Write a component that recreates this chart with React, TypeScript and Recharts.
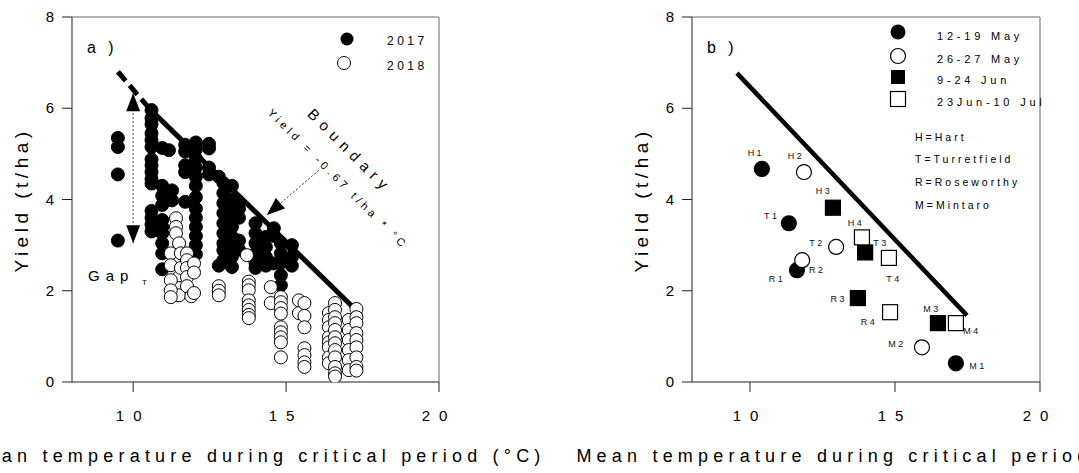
import { ScatterChart, Scatter, XAxis, YAxis, ReferenceLine, ReferenceDot } from "recharts"

const FONT = "'Liberation Sans', Arial, sans-serif"

// panel a: temperature columns with their yields
const cols2017: [number, number[]][] = [
  [9.5, [5.35, 5.15, 4.55, 3.1]],
  [10.6, [5.96, 5.78, 5.65, 5.45, 5.3, 5.15, 4.88, 4.75, 4.6, 4.45, 4.35, 3.75, 3.6, 3.45, 3.3]],
  [10.95, [5.13, 4.3, 4.08, 3.88, 3.55, 3.4, 3.26, 3.04, 2.82, 2.47]],
  [11.17, [5.08]],
  [11.27, [4.2, 3.98]],
  [11.7, [5.2, 5.05, 4.75, 4.6, 3.95]],
  [12.05, [5.25, 5.1, 4.9, 4.7, 4.5, 4.3, 4.05, 3.8, 3.6, 3.4, 3.2, 3.0, 2.8]],
  [12.48, [5.22, 5.12, 4.7, 4.55]],
  [12.8, [4.5, 2.55]],
  [12.95, [4.36, 4.14, 3.92, 3.7, 3.48, 3.26, 3.04, 2.89, 2.67]],
  [13.23, [4.3, 4.0, 3.8, 3.61, 3.4, 3.18, 2.96, 2.75, 2.52]],
  [13.46, [3.92, 3.8, 3.6, 3.1, 2.9]],
  [14.0, [3.48, 3.26, 3.04, 2.82, 2.61, 2.5]],
  [14.34, [3.18, 2.96, 2.74, 2.55]],
  [14.6, [3.37, 3.2, 2.6]],
  [14.83, [3.04, 2.82, 2.61, 2.34, 2.12]],
  [15.19, [3.0, 2.74, 2.55]],
]

const cols2018: [number, number[]][] = [
  [11.4, [3.59, 3.4, 3.26]],
  [11.5, [3.04, 2.3, 2.06, 1.9]],
  [11.23, [2.82, 2.56, 2.23, 2.01, 1.86]],
  [11.56, [2.82, 2.5]],
  [11.76, [2.82, 2.67, 2.5, 2.3, 2.1]],
  [11.9, [1.88]],
  [11.99, [2.6, 2.4, 1.95]],
  [12.8, [2.1, 2.0, 1.9]],
  [13.72, [2.78]],
  [13.78, [2.2, 2.12, 2.01, 1.79, 1.68, 1.58, 1.47, 1.4]],
  [14.5, [2.08, 1.73]],
  [14.83, [1.86, 1.75, 1.62, 1.5, 1.2, 1.09, 0.98, 0.87, 0.54]],
  [15.42, [1.79, 1.51]],
  [15.6, [1.73, 1.45, 1.2, 0.74, 0.59, 0.43, 0.33]],
  [16.4, [1.51, 1.36, 1.2, 0.98, 0.87, 0.76, 0.54, 0.41]],
  [16.6, [1.73, 1.58, 1.42, 1.29, 1.14, 0.98, 0.85, 0.7, 0.54, 0.33, 0.19, 0.12]],
  [17.05, [1.36, 1.14, 0.92, 0.7, 0.48, 0.26]],
  [17.3, [1.6, 1.42, 1.29, 1.07, 0.92, 0.76, 0.54, 0.33, 0.25]],
]

// boundary line
const boundaryDashed = [{ x: 9.5, y: 6.8 }, { x: 10.55, y: 5.98 }]
const boundarySolid = [{ x: 10.55, y: 5.98 }, { x: 17.45, y: 1.47 }]
const boundaryB = [{ x: 9.55, y: 6.77 }, { x: 17.48, y: 1.46 }]
const gapArrow = [{ x: 10, y: 6.33 }, { x: 10, y: 3.04 }]
const boundaryArrow = [{ x: 16.07, y: 4.64 }, { x: 14.37, y: 3.66 }]

// panel b: sowing windows
const sowMay12 = [
  { id: "H1", t: 10.41, y: 4.67 },
  { id: "T1", t: 11.34, y: 3.48 },
  { id: "R1", t: 11.62, y: 2.45 },
  { id: "M1", t: 17.1, y: 0.41 },
]
const sowMay26 = [
  { id: "H2", t: 11.86, y: 4.6 },
  { id: "T2", t: 12.97, y: 2.96 },
  { id: "R2", t: 11.8, y: 2.67 },
  { id: "M2", t: 15.93, y: 0.76 },
]
const sowJun9 = [
  { id: "H3", t: 12.86, y: 3.82 },
  { id: "T3", t: 13.97, y: 2.84 },
  { id: "R3", t: 13.72, y: 1.84 },
  { id: "M3", t: 16.48, y: 1.29 },
]
const sowJun23 = [
  { id: "H4", t: 13.86, y: 3.17 },
  { id: "T4", t: 14.79, y: 2.72 },
  { id: "R4", t: 14.83, y: 1.53 },
  { id: "M4", t: 17.1, y: 1.29 },
]

const xTicks = [10, 15, 20]
const yTicks = [0, 2, 4, 6, 8]

// where each site label sits relative to its marker (px)
const labelNudge: Record<string, [number, number]> = {
  H1: [-6, -16], H2: [-8, -16], H3: [-9, -17], H4: [-6, -14],
  T1: [-17, -7], T2: [-19, -4], T3: [16, -9], T4: [5, 21],
  R1: [-20, 9], R2: [15, 10], R3: [-19, 1], R4: [-21, 10],
  M1: [22, 3], M2: [-25, -3], M3: [-6, -14], M4: [16, 8],
}

const pts = (cols: [number, number[]][]) => cols.flatMap(([t, ys]) => ys.map((y) => ({ t, y })))
const pts2017 = pts(cols2017)
const pts2018 = pts(cols2018)

function XTick(props: any) {
  const { x, y, payload } = props
  return (
    <text x={x} y={y} dy={27} textAnchor="middle" fontSize={15} letterSpacing={9} fontFamily={FONT} fill="#000">
      {payload.value}
    </text>
  )
}

function YTick(props: any) {
  const { x, y, payload } = props
  return (
    <text x={x - 6} y={y} dy={5} textAnchor="end" fontSize={15} fontFamily={FONT} fill="#000">
      {payload.value}
    </text>
  )
}

function ArrowHead({ cx, cy, angle }: { cx: number; cy: number; angle: number }) {
  return (
    <polygon
      points="0,0 -18,-7 -18,7"
      fill="#000"
      transform={`translate(${cx},${cy}) rotate(${angle})`}
    />
  )
}

const dotA = (fill: string) => (p: any) => (
  <circle cx={p.cx} cy={p.cy} r={6.5} fill={fill} stroke="#000" strokeWidth={1} />
)

function siteMark(kind: "fc" | "oc" | "fs" | "os") {
  return (p: any) => {
    const n = labelNudge[p.payload.id] || [0, 0]
    const fill = kind === "fc" || kind === "fs" ? "#000" : "#fff"
    return (
      <g>
        {kind === "fc" || kind === "oc" ? (
          <circle cx={p.cx} cy={p.cy} r={7.5} fill={fill} stroke="#000" strokeWidth={1.2} />
        ) : (
          <rect x={p.cx - 7.5} y={p.cy - 7.5} width={15} height={15} fill={fill} stroke="#000" strokeWidth={1.2} />
        )}
        <text x={p.cx + n[0]} y={p.cy + n[1]} dy={3} textAnchor="middle" fontSize={9} letterSpacing={2.5} fontFamily={FONT} fill="#111">
          {p.payload.id}
        </text>
      </g>
    )
  }
}

function Axes() {
  return [
    <XAxis key="x" type="number" dataKey="t" domain={[8, 20]} ticks={xTicks} tickSize={10} height={30}
      axisLine={{ stroke: "#222" }} tickLine={{ stroke: "#222" }} tick={<XTick />} allowDataOverflow />,
    <YAxis key="y" type="number" dataKey="y" domain={[0, 8]} ticks={yTicks} tickSize={10} width={60}
      axisLine={{ stroke: "#222" }} tickLine={{ stroke: "#222" }} tick={<YTick />} allowDataOverflow />,
    <ReferenceLine key="top" y={8} stroke="#666" />,
    <ReferenceLine key="right" x={20} stroke="#666" />,
  ]
}

const txt = { fontFamily: FONT, fill: "#000" }

export default function App() {
  return (
    <div style={{ position: "absolute", left: 0, top: 0, width: 1079, height: 473, background: "#fff" }}>
      <div style={{ position: "absolute", left: 0, top: 0 }}>
        <ScatterChart width={540} height={473} margin={{ top: 17, right: 101, bottom: 61, left: 12 }}>
          {Axes()}
          <ReferenceLine segment={boundaryDashed} stroke="#000" strokeWidth={5} strokeDasharray="12 6" />
          <ReferenceLine segment={gapArrow} stroke="#333" strokeWidth={1} strokeDasharray="2 2" />
          <ReferenceLine segment={boundaryArrow} stroke="#333" strokeWidth={1} strokeDasharray="2 2" />
          <Scatter name="2017" data={pts2017} shape={dotA("#000")} isAnimationActive={false} />
          <Scatter name="2018" data={pts2018} shape={dotA("#fff")} isAnimationActive={false} />
          <ReferenceLine segment={boundarySolid} stroke="#000" strokeWidth={5} />
          <ReferenceDot x={gapArrow[0].x} y={gapArrow[0].y} shape={(p: any) => <ArrowHead cx={p.cx} cy={p.cy} angle={-90} />} />
          <ReferenceDot x={gapArrow[1].x} y={gapArrow[1].y} shape={(p: any) => <ArrowHead cx={p.cx} cy={p.cy} angle={90} />} />
          <ReferenceDot x={boundaryArrow[1].x} y={boundaryArrow[1].y} shape={(p: any) => <ArrowHead cx={p.cx} cy={p.cy} angle={139} />} />
        </ScatterChart>
      </div>
      <div style={{ position: "absolute", left: 540, top: 0 }}>
        <ScatterChart width={539} height={473} margin={{ top: 17, right: 39, bottom: 61, left: 92 }}>
          {Axes()}
          <ReferenceLine segment={boundaryB} stroke="#000" strokeWidth={4.5} />
          <Scatter name="12-19 May" data={sowMay12} shape={siteMark("fc")} isAnimationActive={false} />
          <Scatter name="26-27 May" data={sowMay26} shape={siteMark("oc")} isAnimationActive={false} />
          <Scatter name="9-24 Jun" data={sowJun9} shape={siteMark("fs")} isAnimationActive={false} />
          <Scatter name="23Jun-10 Jul" data={sowJun23} shape={siteMark("os")} isAnimationActive={false} />
        </ScatterChart>
      </div>
      <svg width={1079} height={473} style={{ position: "absolute", left: 0, top: 0, pointerEvents: "none" }}>
        {/* axis titles */}
        <text x={256} y={462} textAnchor="middle" fontSize={18} letterSpacing={5.2} {...txt}>
          Mean temperature during critical period (°C)
        </text>
        <text x={866} y={462} textAnchor="middle" fontSize={18} letterSpacing={5.2} {...txt}>
          Mean temperature during critical period (°C)
        </text>
        <text transform="translate(28,200) rotate(-90)" textAnchor="middle" fontSize={19} letterSpacing={4.5} {...txt}>
          Yield (t/ha)
        </text>
        <text transform="translate(648,200) rotate(-90)" textAnchor="middle" fontSize={19} letterSpacing={4.5} {...txt}>
          Yield (t/ha)
        </text>

        {/* panel a annotations */}
        <text x={87} y={53} fontSize={16} letterSpacing={4} {...txt}>a )</text>
        <circle cx={347} cy={39} r={6.5} fill="#000" />
        <text x={387} y={45} fontSize={12} letterSpacing={3.5} {...txt}>2017</text>
        <circle cx={344} cy={63} r={6.5} fill="#fff" stroke="#000" />
        <text x={387} y={70} fontSize={12} letterSpacing={3.5} {...txt}>2018</text>
        <text x={88} y={281} fontSize={15} letterSpacing={6} {...txt}>Gap</text>
        <text x={142} y={285} fontSize={8} {...txt}>T</text>
        <text transform="translate(350,151) rotate(45)" dy="0.35em" textAnchor="middle" fontSize={15} letterSpacing={6} {...txt}>
          Boundary
        </text>
        <text transform="translate(338,179) rotate(45)" dy="0.35em" textAnchor="middle" fontSize={11} letterSpacing={3.8} {...txt}>
          Yield = -0.67 t/ha * °C
        </text>

        {/* panel b annotations */}
        <text x={707} y={53} fontSize={16} letterSpacing={4} {...txt}>b )</text>
        <circle cx={898} cy={32} r={7.5} fill="#000" />
        <circle cx={898} cy={56} r={7.5} fill="#fff" stroke="#000" strokeWidth={1.2} />
        <rect x={891} y={70} width={14} height={14} fill="#000" />
        <rect x={890.5} y={91.5} width={15} height={15} fill="#fff" stroke="#000" strokeWidth={1.2} />
        <text x={937} y={40} fontSize={11} letterSpacing={3.8} {...txt}>12-19 May</text>
        <text x={937} y={63} fontSize={11} letterSpacing={3.8} {...txt}>26-27 May</text>
        <text x={937} y={84} fontSize={11} letterSpacing={3.8} {...txt}>9-24 Jun</text>
        <text x={937} y={106} fontSize={11} letterSpacing={3.8} {...txt}>23Jun-10 Jul</text>
        <text x={915} y={141} fontSize={10.5} letterSpacing={3} {...txt}>H=Hart</text>
        <text x={915} y={163} fontSize={10.5} letterSpacing={3} {...txt}>T=Turretfield</text>
        <text x={915} y={186} fontSize={10.5} letterSpacing={3} {...txt}>R=Roseworthy</text>
        <text x={915} y={209} fontSize={10.5} letterSpacing={3} {...txt}>M=Mintaro</text>
      </svg>
    </div>
  )
}
